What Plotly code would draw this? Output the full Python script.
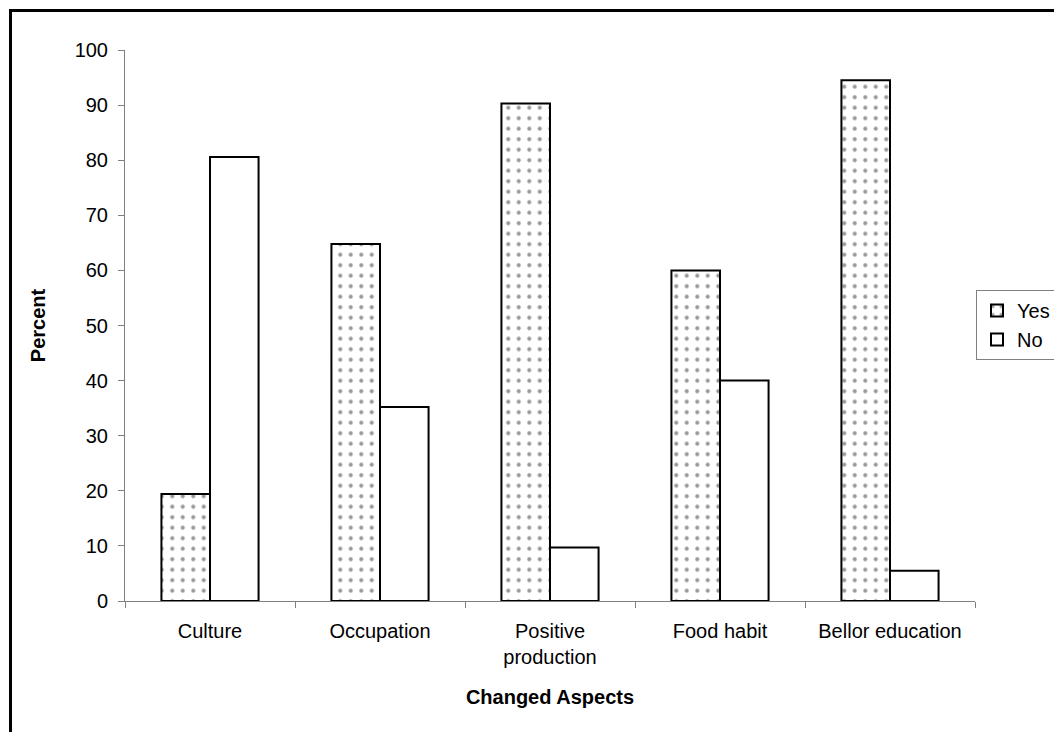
import plotly.graph_objects as go

categories = ["Culture", "Occupation", "Positive<br>production", "Food habit", "Bellor education"]
yes_values = [19.4, 64.8, 90.3, 60.0, 94.5]
no_values = [80.6, 35.2, 9.7, 40.0, 5.5]
y_ticks = [0, 10, 20, 30, 40, 50, 60, 70, 80, 90, 100]

FONT = "Liberation Sans, Arial, sans-serif"
FS = 20

# page body has an 8px margin; figure is sized so the plot lands where the reference has it
W, H = 1054, 724
L, T = 117, 42
PW, PH = 850, 551

fig = go.Figure()
fig.add_trace(go.Bar(
    x=categories, y=yes_values, name="Yes",
    marker=dict(color="white", line=dict(color="black", width=2),
                pattern=dict(shape=".", fgcolor="#333333", bgcolor="white", size=10.5, solidity=0.12)),
))
fig.add_trace(go.Bar(
    x=categories, y=no_values, name="No",
    marker=dict(color="white", line=dict(color="black", width=2)),
))

fig.update_layout(
    width=W, height=H,
    margin=dict(l=L, r=W - L - PW, t=T, b=H - T - PH, pad=0, autoexpand=False),
    paper_bgcolor="white", plot_bgcolor="white",
    barmode="group", bargap=0.4286, bargroupgap=0,
    font=dict(family=FONT, size=FS, color="black"),
    showlegend=True,
    legend=dict(xref="container", yref="container",
                x=(976 - 8) / W, xanchor="left", y=1 - (290 - 8) / H, yanchor="top",
                bordercolor="#808080", borderwidth=1, bgcolor="white",
                font=dict(size=FS), tracegroupgap=0, itemwidth=30),
    xaxis=dict(showline=True, linecolor="#808080", linewidth=1,
               ticks="outside", tickson="boundaries", ticklen=6, tickcolor="#808080",
               showgrid=False, tickfont=dict(size=FS), ticklabelstandoff=12,
               title=dict(text="<b>Changed Aspects</b>", font=dict(size=FS), standoff=22)),
    yaxis=dict(range=[0, 100], tickvals=y_ticks, showline=True, linecolor="#808080", linewidth=1,
               ticks="outside", ticklen=6, tickcolor="#808080", showgrid=False, zeroline=False,
               tickfont=dict(size=FS), ticklabelstandoff=6,
               title=dict(text="<b>Percent</b>", font=dict(size=FS), standoff=23)),
    shapes=[dict(type="rect", xref="paper", yref="paper",
                 x0=(2.5 - L) / PW, x1=(1080 - L) / PW,
                 y0=-(760 - T - PH) / PH, y1=1 + (T - 2.5) / PH,
                 line=dict(color="black", width=3), fillcolor="rgba(0,0,0,0)", layer="below")],
)

fig.write_html("out.html")
